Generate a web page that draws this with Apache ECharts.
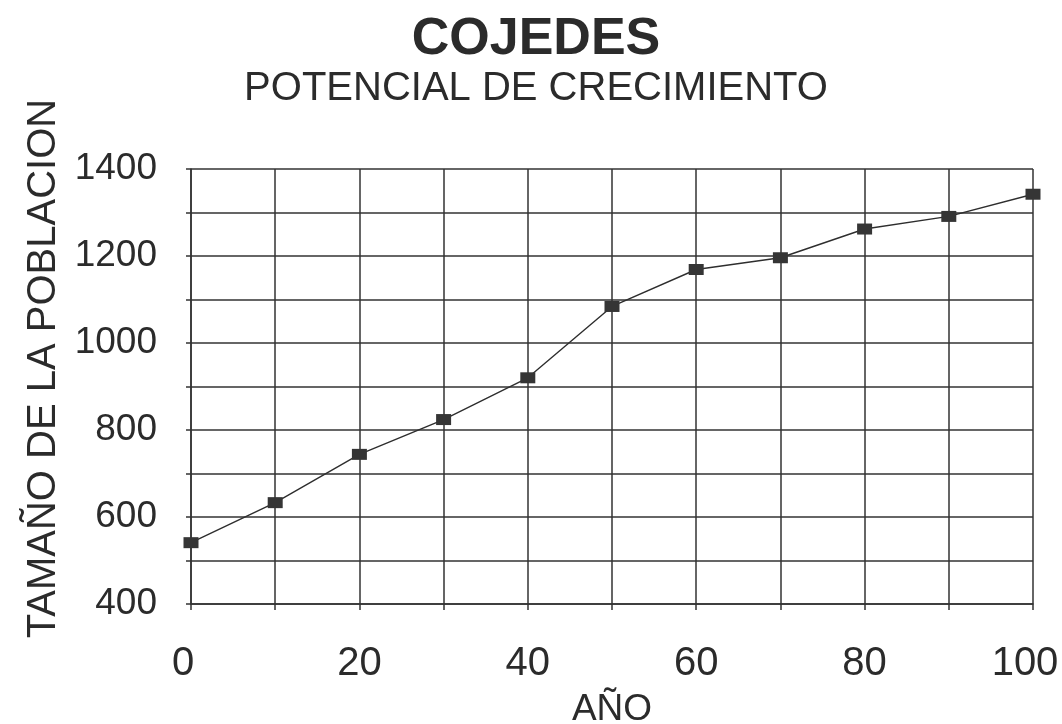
<!DOCTYPE html>
<html>
<head>
<meta charset="utf-8">
<script src="https://cdn.jsdelivr.net/npm/echarts@6/dist/echarts.min.js"></script>
<style>
html,body{margin:0;padding:0;background:#fff;overflow:hidden;}
#chart{width:1062px;height:724px;}
</style>
</head>
<body>
<div id="chart"></div>
<script>
const years = [0, 10, 20, 30, 40, 50, 60, 70, 80, 90, 100];
const population = [541, 633, 744, 824, 920, 1084, 1169, 1196, 1262, 1291, 1342];
const titleText = 'COJEDES';
const subtitleText = 'POTENCIAL DE CRECIMIENTO';
const xName = 'AÑO';
const yName = 'TAMAÑO DE LA POBLACION';

const FONT = '"Liberation Sans", Arial, sans-serif';
const INK = '#2b2b2b';
const LINE = '#333333';

const chart = echarts.init(document.getElementById('chart'), null, {renderer: 'canvas'});
chart.setOption({
  backgroundColor: '#ffffff',
  animation: false,
  title: [
    {text: titleText, left: 531, top: 9, textAlign: 'center',
     textStyle: {fontFamily: FONT, fontSize: 52, fontWeight: 'bold', color: INK}},
    {text: subtitleText, left: 531, top: 64, textAlign: 'center',
     textStyle: {fontFamily: FONT, fontSize: 40, fontWeight: 'normal', color: INK}}
  ],
  grid: {left: 191, right: 29, top: 169, bottom: 120, containLabel: false, outerBoundsMode: 'none'},
  xAxis: {
    type: 'value', min: 0, max: 100, interval: 20,
    name: xName, nameLocation: 'middle', nameGap: 87,
    nameTextStyle: {fontFamily: FONT, fontSize: 37, color: INK},
    axisLine: {show: true, lineStyle: {color: LINE, width: 1.5}},
    axisTick: {show: true, inside: false, length: 6, lineStyle: {color: LINE, width: 1.5}},
    minorTick: {show: true, splitNumber: 2, length: 6, lineStyle: {color: LINE, width: 1.5}},
    axisLabel: {
      fontFamily: FONT, fontSize: 40, color: INK, margin: 40,
      formatter: v => (v === 0 || v === 100) ? '{e|' + v + '}' : String(v),
      rich: {e: {fontFamily: FONT, fontSize: 40, color: INK, padding: [0, 16, 0, 0]}}
    },
    splitLine: {show: true, lineStyle: {color: LINE, width: 1.5}},
    minorSplitLine: {show: true, lineStyle: {color: LINE, width: 1.5}}
  },
  yAxis: {
    type: 'value', min: 400, max: 1400, interval: 200,
    name: yName, nameLocation: 'middle', nameGap: 113, nameRotate: 90,
    nameTextStyle: {fontFamily: FONT, fontSize: 40, color: INK, padding: [0, 0, 0, 36]},
    axisLine: {show: true, lineStyle: {color: LINE, width: 1.5}},
    axisTick: {show: true, inside: false, length: 5, lineStyle: {color: LINE, width: 1.5}},
    minorTick: {show: true, splitNumber: 2, length: 5, lineStyle: {color: LINE, width: 1.5}},
    axisLabel: {fontFamily: FONT, fontSize: 37, color: INK, margin: 34, formatter: v => String(v)},
    splitLine: {show: true, lineStyle: {color: LINE, width: 1.5}},
    minorSplitLine: {show: true, lineStyle: {color: LINE, width: 1.5}}
  },
  series: [{
    type: 'line',
    data: years.map((x, i) => [x, population[i]]),
    symbol: 'rect', symbolSize: [15, 11],
    itemStyle: {color: '#353535'},
    lineStyle: {color: '#2e2e2e', width: 1.4},
    z: 5
  }]
});
</script>
</body>
</html>
